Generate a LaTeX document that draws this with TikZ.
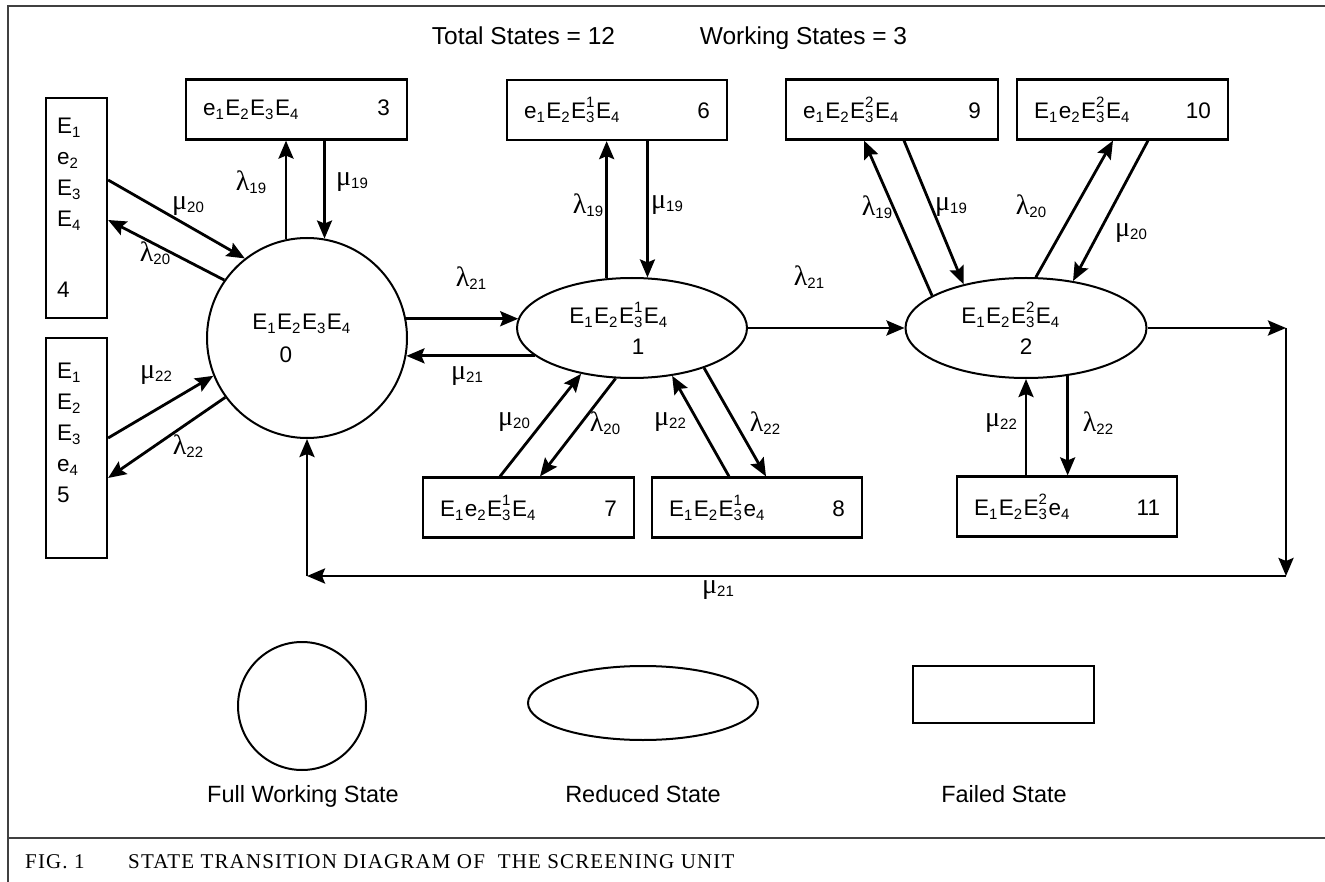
\documentclass[tikz,border=0pt]{standalone}
\usepackage{fontspec}
\setmainfont{Liberation Sans}
\newfontfamily\grkfont{Liberation Serif}
\newfontfamily\figcapfont[LetterSpace=5.5]{Liberation Serif}
\usetikzlibrary{shapes.geometric,arrows.meta}

\newcommand{\subsz}{\fontsize{15}{15}\selectfont}
\newcommand{\comp}[2]{#1\raisebox{-4pt}{\subsz #2}\kern1.5pt}
\newcommand{\compx}[3]{#1\rlap{\raisebox{11pt}{\subsz #2}}\raisebox{-4pt}{\subsz #3}\kern1.5pt}
\newcommand{\lamr}[1]{{\grkfont\fontsize{28}{28}\selectfont λ}\raisebox{-3pt}{\fontsize{15}{15}\selectfont #1}}
\newcommand{\mur}[1]{{\grkfont\fontsize{28}{28}\selectfont μ}\raisebox{-3pt}{\fontsize{15}{15}\selectfont #1}}

\begin{document}
\begin{tikzpicture}[x=1pt,y=-1pt,
    arr/.style={line width=2.8pt,-{Stealth[length=18pt,width=15pt,inset=3pt]}},
    failbox/.style={draw,rectangle,line width=2.2pt,minimum height=60pt,inner xsep=17pt,inner ysep=0pt,align=left,font=\statefontsize},
    tallbox/.style={draw,rectangle,line width=2.2pt,minimum height=220pt,inner xsep=11pt,inner ysep=0pt,text width=39pt,align=left,font=\tallfontsize},
    workstate/.style={draw,circle,line width=2pt,inner sep=0pt,align=center,font=\statefontsize},
    redstate/.style={draw,ellipse,line width=2pt,inner sep=0pt,align=center,font=\statefontsize},
    ratelabel/.style={inner sep=0pt}]
    \providecommand{\statefontsize}{\fontsize{22.5}{31}\selectfont}
    \providecommand{\tallfontsize}{\fontsize{22.5}{31}\selectfont}
    \providecommand{\titlefontsize}{\fontsize{24.5}{30}\selectfont}
    \providecommand{\legendfontsize}{\fontsize{23.5}{30}\selectfont}
    \providecommand{\capfontsize}{\fontsize{21}{25}\selectfont}
    \useasboundingbox (0,0) rectangle (1325,882);
    % frame
    \draw[line width=1.5pt,black!75] (1325,6) -- (8,6) -- (8,882);
    \draw[line width=1.5pt,black!75] (8,838) -- (1325,838);
    % title
    \node[font=\titlefontsize,anchor=base] (total) at (523.5,45) {Total States = 12};
    \node[font=\titlefontsize,anchor=base] (working) at (803.5,45) {Working States = 3};
    % working and reduced states
    \node[workstate,minimum size=200pt] (s0) at (307,338) {\comp{E}{1}\comp{E}{2}\comp{E}{3}\comp{E}{4}\hspace*{10pt}\\[2pt]0\hspace*{42pt}};
    \node[redstate,minimum width=230pt,minimum height=100pt] (s1) at (632,328) {\comp{E}{1}\comp{E}{2}\compx{E}{1}{3}\comp{E}{4}\hspace*{26pt}\\\hspace*{12pt}1};
    \node[redstate,minimum width=241pt,minimum height=100pt] (s2) at (1026,328) {\comp{E}{1}\comp{E}{2}\compx{E}{2}{3}\comp{E}{4}\hspace*{30pt}\\2};
    % failed states
    \node[failbox,text width=187pt] (b3) at (296.5,109.5) {\comp{e}{1}\comp{E}{2}\comp{E}{3}\comp{E}{4}\hfill 3\hspace*{5pt}};
    \node[tallbox] (b4) at (76.5,208) {\comp{E}{1}\\\comp{e}{2}\\\comp{E}{3}\\\comp{E}{4}\\[40pt]4};
    \node[tallbox] (b5) at (76.5,448) {\comp{E}{1}\\\comp{E}{2}\\\comp{E}{3}\\\comp{e}{4}\\5\\\mbox{}};
    \node[failbox,text width=186pt] (b6) at (617,110) {\comp{e}{1}\comp{E}{2}\compx{E}{1}{3}\comp{E}{4}\hfill 6\hspace*{52pt}};
    \node[failbox,text width=177pt] (b7) at (528.5,507.5) {\comp{E}{1}\comp{e}{2}\compx{E}{1}{3}\comp{E}{4}\hfill 7\hspace*{25pt}};
    \node[failbox,text width=176pt] (b8) at (757,507.5) {\comp{E}{1}\comp{E}{2}\compx{E}{1}{3}\comp{e}{4}\hfill 8\hspace*{47pt}};
    \node[failbox,text width=178pt] (b9) at (892,109.5) {\comp{e}{1}\comp{E}{2}\compx{E}{2}{3}\comp{E}{4}\hfill 9\hspace*{39pt}};
    \node[failbox,text width=177pt] (b10) at (1122.5,109.5) {\comp{E}{1}\comp{e}{2}\compx{E}{2}{3}\comp{E}{4}\hfill 10\hspace*{24pt}};
    \node[failbox,text width=186pt] (b11) at (1067,506.5) {\comp{E}{1}\comp{E}{2}\compx{E}{2}{3}\comp{e}{4}\hfill 11\hspace*{22pt}};
    % transitions of state 0
    \draw[arr] (s0.102) -- (s0.102 |- b3.south);
    \draw[arr] (s0.80 |- b3.south) -- (s0.80);
    \draw[arr] ([yshift=28pt]b4.east) -- (s0.128);
    \draw[arr] (s0.145) -- ([yshift=-12pt]b4.east);
    \draw[arr] ([yshift=10pt]b5.east) -- (s0.202);
    \draw[arr] (s0.216) -- ([yshift=-30pt]b5.east);
    \draw[arr] (s0.11) -- (s0.11 -| s1.175);
    \draw[arr] (s1.196) -- (s1.196 -| s0.350);
    % transitions of state 1
    \draw[arr] (s1.east) -- (s2.west);
    \draw[arr] (s1.117) -- (s1.117 |- b6.south);
    \draw[arr] (s1.73 |- b6.south) -- (s1.73);
    \draw[arr] ([xshift=-28.5pt]b7.north) -- (s1.222);
    \draw[arr] (s1.252) -- ([xshift=11.5pt]b7.north);
    \draw[arr] ([xshift=-28pt]b8.north) -- (s1.310);
    \draw[arr] (s1.331) -- ([xshift=9pt]b8.north);
    % transitions of state 2
    \draw[arr] (s2.161) -- ([xshift=-28pt]b9.south);
    \draw[arr] ([xshift=12pt]b9.south) -- (s2.145);
    \draw[arr] (s2.79) -- ([xshift=-9.5pt]b10.south);
    \draw[arr] ([xshift=25.5pt]b10.south) -- (s2.45);
    \draw[arr] (s2.south |- b11.north) -- (s2.south);
    \draw[arr] (s2.311) -- (s2.311 |- b11.north);
    % return from state 2 to state 0
    \coordinate (rc) at (1286,328);
    \coordinate (rb) at (1286,576);
    \coordinate (lb) at (s0.south |- rb);
    \draw[arr] (s2.east) -- (rc);
    \draw[arr] (rc) -- (rb);
    \draw[arr] (rb) -- (lb);
    \draw[arr] (lb) -- (s0.south);
    % rates
    \node[ratelabel] (lam19a) at (251,182) {\lamr{19}};
    \node[ratelabel] (mu19a) at (352,182) {\mur{19}};
    \node[ratelabel] (mu20a) at (188,206) {\mur{20}};
    \node[ratelabel] (lam20a) at (155,253) {\lamr{20}};
    \node[ratelabel] (mu22a) at (156,375) {\mur{22}};
    \node[ratelabel] (lam22a) at (188,446) {\lamr{22}};
    \node[ratelabel] (lam21a) at (471,278) {\lamr{21}};
    \node[ratelabel] (mu21a) at (467,376) {\mur{21}};
    \node[ratelabel] (lam21b) at (809,277) {\lamr{21}};
    \node[ratelabel] (lam19b) at (588,205) {\lamr{19}};
    \node[ratelabel] (mu19b) at (667,205) {\mur{19}};
    \node[ratelabel] (mu20b) at (514,422) {\mur{20}};
    \node[ratelabel] (lam20b) at (605,423) {\lamr{20}};
    \node[ratelabel] (mu22b) at (670,422) {\mur{22}};
    \node[ratelabel] (lam22b) at (765,423) {\lamr{22}};
    \node[ratelabel] (lam19c) at (877,207) {\lamr{19}};
    \node[ratelabel] (mu19c) at (951,207) {\mur{19}};
    \node[ratelabel] (lam20c) at (1031,206) {\lamr{20}};
    \node[ratelabel] (mu20c) at (1131,233) {\mur{20}};
    \node[ratelabel] (mu22c) at (1001,423) {\mur{22}};
    \node[ratelabel] (lam22c) at (1098,423) {\lamr{22}};
    \node[ratelabel] (mu21b) at (718,590) {\mur{21}};
    % legend
    \node[workstate,minimum size=128pt] (legfull) at (302,706) {};
    \node[redstate,minimum width=230pt,minimum height=74pt] (legred) at (643,703) {};
    \node[draw,line width=2.2pt,minimum width=181pt,minimum height=57pt] (legfail) at (1003.5,694.5) {};
    \node[font=\legendfontsize,anchor=base] (legfulltxt) at (303,802) {Full Working State};
    \node[font=\legendfontsize,anchor=base] (legredtxt) at (643,802) {Reduced State};
    \node[font=\legendfontsize,anchor=base] (legfailtxt) at (1004,802) {Failed State};
    % caption
    \node[font=\capfontsize\figcapfont,anchor=base west,inner sep=0pt] (fignum) at (25,868) {FIG. 1};
    \node[font=\capfontsize\figcapfont,anchor=base west,inner sep=0pt] (figtitle) at (128,868) {STATE TRANSITION DIAGRAM OF\ \ THE SCREENING UNIT};
\end{tikzpicture}
\end{document}
